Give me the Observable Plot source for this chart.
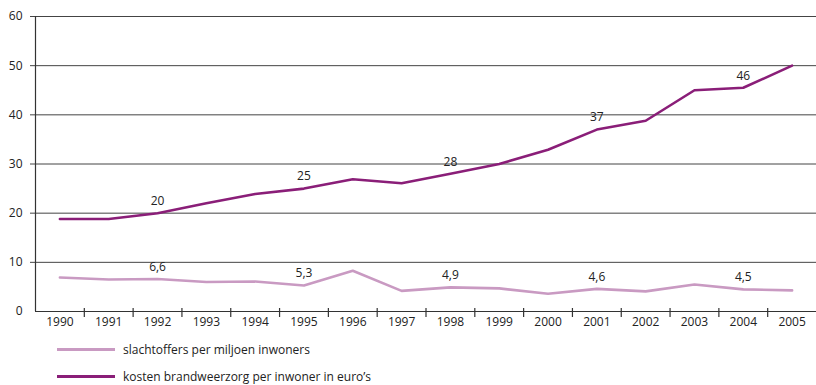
<!DOCTYPE html>
<html>
<head>
<meta charset="utf-8">
<script src="https://cdn.jsdelivr.net/npm/d3@7"></script>
<script src="https://cdn.jsdelivr.net/npm/@observablehq/plot@0.6"></script>
<style>
  body { margin: 0; background: #fff; font-family: "Open Sans", "Noto Sans", sans-serif; }
  #chart svg { display: block; }
  .legend { margin: 6px 0 0 57px; font-size: 12px; color: #222; }
  .legend .item { display: flex; align-items: center; height: 27px; }
  .legend .sw { display: inline-block; width: 58px; height: 3px; margin-right: 8px; }
</style>
</head>
<body>
<div id="chart"></div>
<script>
const years = [1990,1991,1992,1993,1994,1995,1996,1997,1998,1999,2000,2001,2002,2003,2004,2005];
const kosten = [18.8,18.8,20,22,23.9,25,26.9,26.1,28,30,32.9,37,38.8,45,45.5,50];
const slachtoffers = [6.9,6.5,6.6,6.0,6.1,5.3,8.3,4.2,4.9,4.7,3.6,4.6,4.1,5.5,4.5,4.3];
const kostenLabels = {1992: "20", 1995: "25", 1998: "28", 2001: "37", 2004: "46"};
const slachtLabels = {1992: "6,6", 1995: "5,3", 1998: "4,9", 2001: "4,6", 2004: "4,5"};
const yTicks = [0,10,20,30,40,50,60];
const seriesNames = ["slachtoffers per miljoen inwoners", "kosten brandweerzorg per inwoner in euro’s"];
const colors = ["#c99ac2", "#8a1e78"];

const kData = years.map((y, i) => ({year: y, v: kosten[i], label: kostenLabels[y] || ""}));
const sData = years.map((y, i) => ({year: y, v: slachtoffers[i], label: slachtLabels[y] || ""}));
const bounds = years.slice(0, -1).map(y => y + 0.5);

const plot = Plot.plot({
  width: 816,
  height: 330,
  marginLeft: 35,
  marginRight: 0,
  marginTop: 16,
  marginBottom: 19,
  style: {fontFamily: "'Open Sans', 'Noto Sans', sans-serif", fontSize: "12px", color: "#222"},
  x: {domain: [years[0] - 0.5, years[years.length - 1] + 0.5], axis: null},
  y: {domain: [0, 60], axis: null},
  marks: [
    Plot.ruleY(yTicks.filter(t => t > 0), {stroke: "#444", strokeWidth: 1, insetLeft: -5}),
    Plot.ruleY([0], {stroke: "#333", strokeWidth: 1.2}),
    Plot.ruleX([years[0] - 0.5], {y1: 0, y2: 60, stroke: "#333", strokeWidth: 1.2}),
    Plot.ruleX(bounds, {y1: 0, y2: 0, insetBottom: -6, insetTop: -3, stroke: "#333", strokeWidth: 1.2}),
    Plot.text(yTicks, {x: years[0] - 0.5, y: d => d, text: d => String(d), textAnchor: "end", dx: -13, fill: "#222"}),
    Plot.text(years, {x: d => d, y: 0, text: d => String(d), dy: 11, fill: "#222"}),
    Plot.line(sData, {x: "year", y: "v", stroke: colors[0], strokeWidth: 2.6}),
    Plot.line(kData, {x: "year", y: "v", stroke: colors[1], strokeWidth: 2.6}),
    Plot.text(kData.filter(d => d.label), {x: "year", y: "v", text: "label", dy: -12, fill: "#222"}),
    Plot.text(sData.filter(d => d.label), {x: "year", y: "v", text: "label", dy: -12, fill: "#222"})
  ]
});
document.getElementById("chart").appendChild(plot);

const legend = document.createElement("div");
legend.className = "legend";
seriesNames.forEach((name, i) => {
  const item = document.createElement("div");
  item.className = "item";
  const sw = document.createElement("span");
  sw.className = "sw";
  sw.style.background = colors[i];
  item.appendChild(sw);
  item.appendChild(document.createTextNode(name));
  legend.appendChild(item);
});
document.getElementById("chart").appendChild(legend);
</script>
</body>
</html>
